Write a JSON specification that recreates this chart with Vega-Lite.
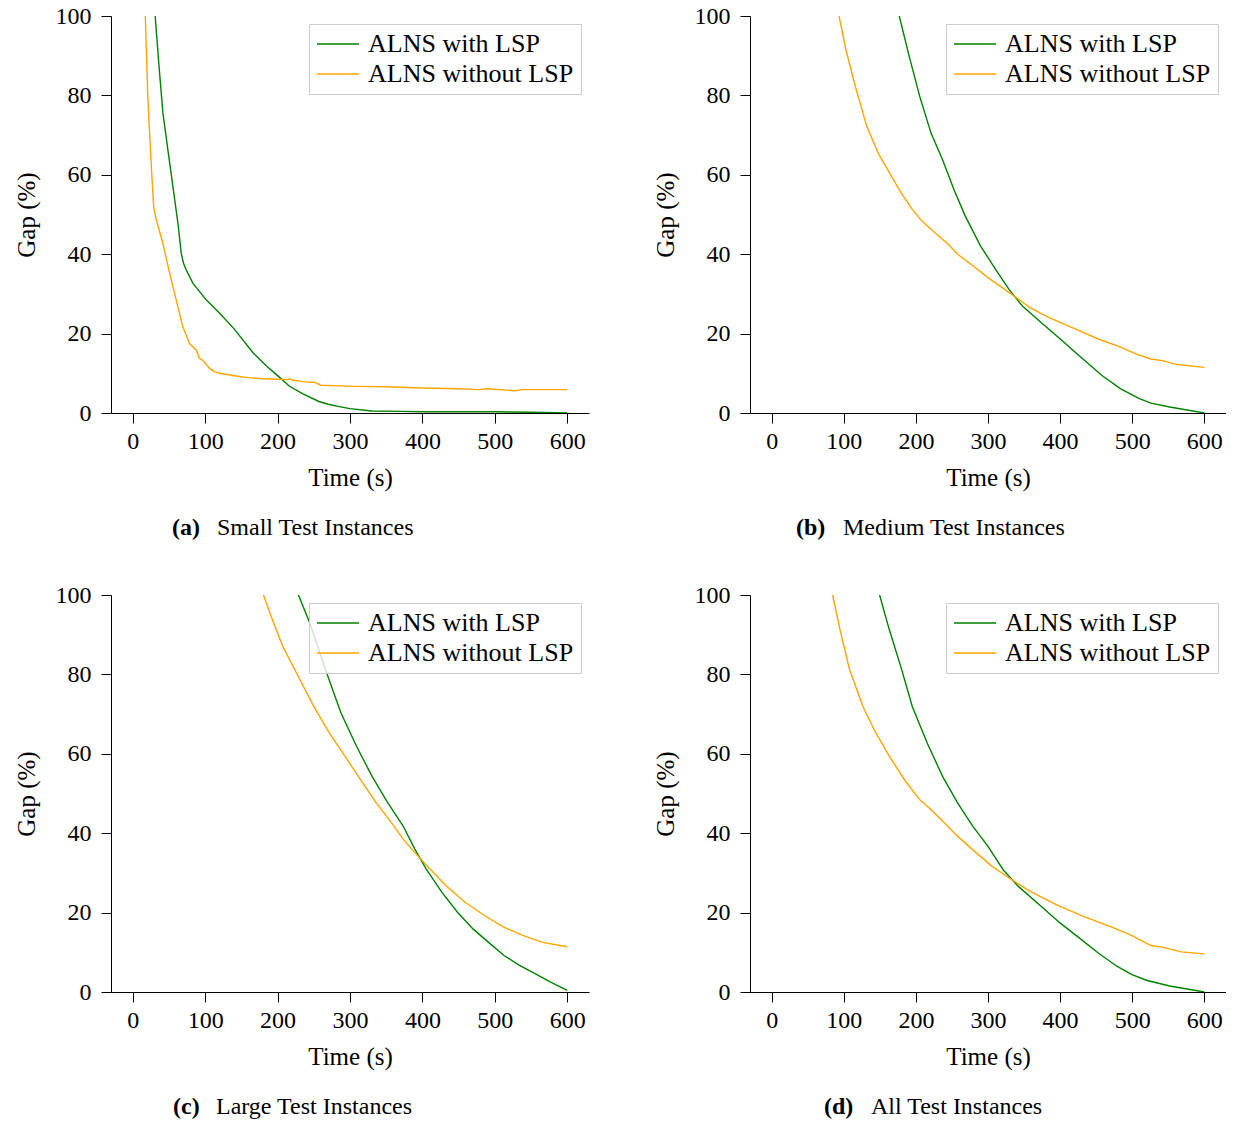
{
  "$schema": "https://vega.github.io/schema/vega-lite/v6.json",
  "background": "white",
  "padding": {"left": 14, "top": 4, "right": 0, "bottom": 0},
  "datasets": {
    "small": [
      {"t": 31, "gap": 100, "s": "ALNS with LSP"},
      {"t": 36, "gap": 88, "s": "ALNS with LSP"},
      {"t": 41.7, "gap": 75.5, "s": "ALNS with LSP"},
      {"t": 48.6, "gap": 66.2, "s": "ALNS with LSP"},
      {"t": 55.5, "gap": 57, "s": "ALNS with LSP"},
      {"t": 62.4, "gap": 47.8, "s": "ALNS with LSP"},
      {"t": 67, "gap": 40.2, "s": "ALNS with LSP"},
      {"t": 70, "gap": 37.8, "s": "ALNS with LSP"},
      {"t": 73.9, "gap": 36, "s": "ALNS with LSP"},
      {"t": 83, "gap": 32.7, "s": "ALNS with LSP"},
      {"t": 101.4, "gap": 28.5, "s": "ALNS with LSP"},
      {"t": 120, "gap": 25.1, "s": "ALNS with LSP"},
      {"t": 140, "gap": 21.2, "s": "ALNS with LSP"},
      {"t": 165.5, "gap": 15.3, "s": "ALNS with LSP"},
      {"t": 185, "gap": 11.8, "s": "ALNS with LSP"},
      {"t": 202, "gap": 9.1, "s": "ALNS with LSP"},
      {"t": 216, "gap": 6.8, "s": "ALNS with LSP"},
      {"t": 235, "gap": 4.8, "s": "ALNS with LSP"},
      {"t": 257, "gap": 2.9, "s": "ALNS with LSP"},
      {"t": 270, "gap": 2.2, "s": "ALNS with LSP"},
      {"t": 285, "gap": 1.6, "s": "ALNS with LSP"},
      {"t": 300, "gap": 1.1, "s": "ALNS with LSP"},
      {"t": 330, "gap": 0.5, "s": "ALNS with LSP"},
      {"t": 370, "gap": 0.4, "s": "ALNS with LSP"},
      {"t": 400, "gap": 0.3, "s": "ALNS with LSP"},
      {"t": 450, "gap": 0.3, "s": "ALNS with LSP"},
      {"t": 500, "gap": 0.3, "s": "ALNS with LSP"},
      {"t": 550, "gap": 0.2, "s": "ALNS with LSP"},
      {"t": 600, "gap": 0, "s": "ALNS with LSP"},
      {"t": 17.4, "gap": 100, "s": "ALNS without LSP"},
      {"t": 21, "gap": 78.8, "s": "ALNS without LSP"},
      {"t": 25.7, "gap": 62, "s": "ALNS without LSP"},
      {"t": 28.9, "gap": 52, "s": "ALNS without LSP"},
      {"t": 32.6, "gap": 48.6, "s": "ALNS without LSP"},
      {"t": 41.7, "gap": 42.7, "s": "ALNS without LSP"},
      {"t": 51, "gap": 35.2, "s": "ALNS without LSP"},
      {"t": 60, "gap": 28.5, "s": "ALNS without LSP"},
      {"t": 69.2, "gap": 21.7, "s": "ALNS without LSP"},
      {"t": 78.4, "gap": 17.5, "s": "ALNS without LSP"},
      {"t": 87.6, "gap": 15.9, "s": "ALNS without LSP"},
      {"t": 92, "gap": 13.8, "s": "ALNS without LSP"},
      {"t": 96.7, "gap": 13.3, "s": "ALNS without LSP"},
      {"t": 106, "gap": 11.3, "s": "ALNS without LSP"},
      {"t": 112, "gap": 10.5, "s": "ALNS without LSP"},
      {"t": 119.7, "gap": 10, "s": "ALNS without LSP"},
      {"t": 147, "gap": 9.2, "s": "ALNS without LSP"},
      {"t": 160, "gap": 8.9, "s": "ALNS without LSP"},
      {"t": 174.8, "gap": 8.7, "s": "ALNS without LSP"},
      {"t": 200, "gap": 8.5, "s": "ALNS without LSP"},
      {"t": 214, "gap": 8.4, "s": "ALNS without LSP"},
      {"t": 217, "gap": 8.7, "s": "ALNS without LSP"},
      {"t": 220, "gap": 8.3, "s": "ALNS without LSP"},
      {"t": 235, "gap": 7.9, "s": "ALNS without LSP"},
      {"t": 252, "gap": 7.7, "s": "ALNS without LSP"},
      {"t": 259.6, "gap": 7.0, "s": "ALNS without LSP"},
      {"t": 307.8, "gap": 6.7, "s": "ALNS without LSP"},
      {"t": 350, "gap": 6.6, "s": "ALNS without LSP"},
      {"t": 399.5, "gap": 6.3, "s": "ALNS without LSP"},
      {"t": 450, "gap": 6.1, "s": "ALNS without LSP"},
      {"t": 478, "gap": 5.9, "s": "ALNS without LSP"},
      {"t": 490, "gap": 6.1, "s": "ALNS without LSP"},
      {"t": 528, "gap": 5.6, "s": "ALNS without LSP"},
      {"t": 538, "gap": 5.9, "s": "ALNS without LSP"},
      {"t": 570, "gap": 5.9, "s": "ALNS without LSP"},
      {"t": 600, "gap": 5.9, "s": "ALNS without LSP"}
    ],
    "medium": [
      {"t": 177, "gap": 100, "s": "ALNS with LSP"},
      {"t": 189.7, "gap": 90.6, "s": "ALNS with LSP"},
      {"t": 205.4, "gap": 79.7, "s": "ALNS with LSP"},
      {"t": 221, "gap": 70.5, "s": "ALNS with LSP"},
      {"t": 237, "gap": 63.8, "s": "ALNS with LSP"},
      {"t": 252.7, "gap": 56.3, "s": "ALNS with LSP"},
      {"t": 268.5, "gap": 49.6, "s": "ALNS with LSP"},
      {"t": 289.5, "gap": 42.1, "s": "ALNS with LSP"},
      {"t": 310.5, "gap": 36.2, "s": "ALNS with LSP"},
      {"t": 328.9, "gap": 31.2, "s": "ALNS with LSP"},
      {"t": 347.3, "gap": 27, "s": "ALNS with LSP"},
      {"t": 373.6, "gap": 22.8, "s": "ALNS with LSP"},
      {"t": 399.8, "gap": 18.7, "s": "ALNS with LSP"},
      {"t": 426, "gap": 14.5, "s": "ALNS with LSP"},
      {"t": 457.6, "gap": 9.5, "s": "ALNS with LSP"},
      {"t": 483.9, "gap": 6.1, "s": "ALNS with LSP"},
      {"t": 510, "gap": 3.6, "s": "ALNS with LSP"},
      {"t": 526, "gap": 2.5, "s": "ALNS with LSP"},
      {"t": 552, "gap": 1.5, "s": "ALNS with LSP"},
      {"t": 600, "gap": 0, "s": "ALNS with LSP"},
      {"t": 93.5, "gap": 100, "s": "ALNS without LSP"},
      {"t": 103, "gap": 91.5, "s": "ALNS without LSP"},
      {"t": 116, "gap": 82.3, "s": "ALNS without LSP"},
      {"t": 131.9, "gap": 72.2, "s": "ALNS without LSP"},
      {"t": 147.6, "gap": 65.5, "s": "ALNS without LSP"},
      {"t": 163.4, "gap": 60.5, "s": "ALNS without LSP"},
      {"t": 179.2, "gap": 55.5, "s": "ALNS without LSP"},
      {"t": 195, "gap": 51.3, "s": "ALNS without LSP"},
      {"t": 208, "gap": 48.4, "s": "ALNS without LSP"},
      {"t": 226.4, "gap": 45.4, "s": "ALNS without LSP"},
      {"t": 244.8, "gap": 42.5, "s": "ALNS without LSP"},
      {"t": 258, "gap": 40, "s": "ALNS without LSP"},
      {"t": 279, "gap": 37.1, "s": "ALNS without LSP"},
      {"t": 300, "gap": 34.1, "s": "ALNS without LSP"},
      {"t": 328.9, "gap": 30.4, "s": "ALNS without LSP"},
      {"t": 357.8, "gap": 26.6, "s": "ALNS without LSP"},
      {"t": 384, "gap": 24.1, "s": "ALNS without LSP"},
      {"t": 420.9, "gap": 21.2, "s": "ALNS without LSP"},
      {"t": 452, "gap": 18.7, "s": "ALNS without LSP"},
      {"t": 483.9, "gap": 16.6, "s": "ALNS without LSP"},
      {"t": 505, "gap": 14.9, "s": "ALNS without LSP"},
      {"t": 526, "gap": 13.6, "s": "ALNS without LSP"},
      {"t": 541.7, "gap": 13.2, "s": "ALNS without LSP"},
      {"t": 562.7, "gap": 12.2, "s": "ALNS without LSP"},
      {"t": 600, "gap": 11.5, "s": "ALNS without LSP"}
    ],
    "large": [
      {"t": 228.8, "gap": 100, "s": "ALNS with LSP"},
      {"t": 244.8, "gap": 92.8, "s": "ALNS with LSP"},
      {"t": 266.3, "gap": 81.1, "s": "ALNS with LSP"},
      {"t": 287.7, "gap": 70.2, "s": "ALNS with LSP"},
      {"t": 309, "gap": 61.9, "s": "ALNS with LSP"},
      {"t": 330.5, "gap": 54.3, "s": "ALNS with LSP"},
      {"t": 352, "gap": 47.7, "s": "ALNS with LSP"},
      {"t": 373.4, "gap": 41.8, "s": "ALNS with LSP"},
      {"t": 389.5, "gap": 36, "s": "ALNS with LSP"},
      {"t": 405.5, "gap": 30.9, "s": "ALNS with LSP"},
      {"t": 427, "gap": 25.1, "s": "ALNS with LSP"},
      {"t": 448.4, "gap": 20.1, "s": "ALNS with LSP"},
      {"t": 469.8, "gap": 15.9, "s": "ALNS with LSP"},
      {"t": 491.3, "gap": 12.5, "s": "ALNS with LSP"},
      {"t": 512.7, "gap": 9.2, "s": "ALNS with LSP"},
      {"t": 534, "gap": 6.7, "s": "ALNS with LSP"},
      {"t": 555.5, "gap": 4.6, "s": "ALNS with LSP"},
      {"t": 577, "gap": 2.5, "s": "ALNS with LSP"},
      {"t": 600, "gap": 0.4, "s": "ALNS with LSP"},
      {"t": 180.5, "gap": 100, "s": "ALNS without LSP"},
      {"t": 191.3, "gap": 94.5, "s": "ALNS without LSP"},
      {"t": 207.3, "gap": 87, "s": "ALNS without LSP"},
      {"t": 228.8, "gap": 79.4, "s": "ALNS without LSP"},
      {"t": 250.2, "gap": 71.9, "s": "ALNS without LSP"},
      {"t": 271.6, "gap": 65.2, "s": "ALNS without LSP"},
      {"t": 293, "gap": 59.4, "s": "ALNS without LSP"},
      {"t": 314.5, "gap": 53.5, "s": "ALNS without LSP"},
      {"t": 336, "gap": 47.7, "s": "ALNS without LSP"},
      {"t": 357.3, "gap": 42.6, "s": "ALNS without LSP"},
      {"t": 373.4, "gap": 38.5, "s": "ALNS without LSP"},
      {"t": 389.5, "gap": 35.1, "s": "ALNS without LSP"},
      {"t": 410.9, "gap": 30.9, "s": "ALNS without LSP"},
      {"t": 432.3, "gap": 26.8, "s": "ALNS without LSP"},
      {"t": 459, "gap": 22.6, "s": "ALNS without LSP"},
      {"t": 486, "gap": 19.2, "s": "ALNS without LSP"},
      {"t": 512.7, "gap": 16.3, "s": "ALNS without LSP"},
      {"t": 539.5, "gap": 14.2, "s": "ALNS without LSP"},
      {"t": 566, "gap": 12.5, "s": "ALNS without LSP"},
      {"t": 600, "gap": 11.4, "s": "ALNS without LSP"}
    ],
    "all": [
      {"t": 149.7, "gap": 100, "s": "ALNS with LSP"},
      {"t": 163.4, "gap": 91.1, "s": "ALNS with LSP"},
      {"t": 179.2, "gap": 81.9, "s": "ALNS with LSP"},
      {"t": 195, "gap": 71.9, "s": "ALNS with LSP"},
      {"t": 216, "gap": 62.6, "s": "ALNS with LSP"},
      {"t": 237, "gap": 54.3, "s": "ALNS with LSP"},
      {"t": 258, "gap": 47.6, "s": "ALNS with LSP"},
      {"t": 279, "gap": 41.7, "s": "ALNS with LSP"},
      {"t": 300, "gap": 36.7, "s": "ALNS with LSP"},
      {"t": 321, "gap": 30.8, "s": "ALNS with LSP"},
      {"t": 342, "gap": 26.6, "s": "ALNS with LSP"},
      {"t": 373.6, "gap": 21.6, "s": "ALNS with LSP"},
      {"t": 399.8, "gap": 17.4, "s": "ALNS with LSP"},
      {"t": 426, "gap": 13.7, "s": "ALNS with LSP"},
      {"t": 452.4, "gap": 9.9, "s": "ALNS with LSP"},
      {"t": 478.6, "gap": 6.5, "s": "ALNS with LSP"},
      {"t": 499.6, "gap": 4.4, "s": "ALNS with LSP"},
      {"t": 520.7, "gap": 2.9, "s": "ALNS with LSP"},
      {"t": 552, "gap": 1.5, "s": "ALNS with LSP"},
      {"t": 600, "gap": 0, "s": "ALNS with LSP"},
      {"t": 84.6, "gap": 100, "s": "ALNS without LSP"},
      {"t": 95, "gap": 91.1, "s": "ALNS without LSP"},
      {"t": 108.2, "gap": 81.1, "s": "ALNS without LSP"},
      {"t": 126.6, "gap": 71.9, "s": "ALNS without LSP"},
      {"t": 142.4, "gap": 66, "s": "ALNS without LSP"},
      {"t": 163.4, "gap": 59.3, "s": "ALNS without LSP"},
      {"t": 184.4, "gap": 53.4, "s": "ALNS without LSP"},
      {"t": 205.4, "gap": 48.4, "s": "ALNS without LSP"},
      {"t": 221.2, "gap": 45.9, "s": "ALNS without LSP"},
      {"t": 242.2, "gap": 42.1, "s": "ALNS without LSP"},
      {"t": 258, "gap": 39.2, "s": "ALNS without LSP"},
      {"t": 279, "gap": 35.8, "s": "ALNS without LSP"},
      {"t": 305.3, "gap": 31.7, "s": "ALNS without LSP"},
      {"t": 326.3, "gap": 29.1, "s": "ALNS without LSP"},
      {"t": 357.8, "gap": 25.4, "s": "ALNS without LSP"},
      {"t": 394.6, "gap": 22, "s": "ALNS without LSP"},
      {"t": 431.4, "gap": 19.1, "s": "ALNS without LSP"},
      {"t": 473.4, "gap": 16.2, "s": "ALNS without LSP"},
      {"t": 499.6, "gap": 14.2, "s": "ALNS without LSP"},
      {"t": 526, "gap": 11.7, "s": "ALNS without LSP"},
      {"t": 541.7, "gap": 11.3, "s": "ALNS without LSP"},
      {"t": 568, "gap": 10.1, "s": "ALNS without LSP"},
      {"t": 600, "gap": 9.6, "s": "ALNS without LSP"}
    ]
  },
  "resolve": {"scale": {"color": "independent"}, "legend": {"color": "independent"}},
  "spacing": 43,
  "vconcat": [
    {
      "spacing": 64,
      "resolve": {"scale": {"color": "independent"}, "legend": {"color": "independent"}},
      "hconcat": [
        {
          "title": {"text": "(a)", "orient": "bottom", "anchor": "start", "frame": "bounds", "dx": 158, "dy": -24, "offset": 0, "fontWeight": "bold"},
          "resolve": {"scale": {"color": "independent"}, "legend": {"color": "independent"}},
          "vconcat": [
            {
              "width": 478, "height": 397,
              "data": {"name": "small"},
              "title": {"text": "Small Test Instances", "orient": "bottom", "anchor": "start", "frame": "bounds", "dx": 203, "offset": 26},
              "mark": {"type": "line", "strokeWidth": 1.4, "clip": true},
              "encoding": {
                "x": {"field": "t", "type": "quantitative", "scale": {"domain": [-30, 630], "nice": false, "zero": false}, "axis": {"values": [0, 100, 200, 300, 400, 500, 600], "title": "Time (s)", "labelPadding": 6}},
                "y": {"field": "gap", "type": "quantitative", "scale": {"domain": [0, 100], "nice": false}, "axis": {"values": [0, 20, 40, 60, 80, 100], "title": "Gap (%)", "labelPadding": 10}},
                "color": {"field": "s", "type": "nominal", "scale": {"domain": ["ALNS with LSP", "ALNS without LSP"], "range": ["#008000", "#FFA500"]}, "legend": {"title": null}}
              }
            }
          ]
        },
        {
          "title": {"text": "(b)", "orient": "bottom", "anchor": "start", "frame": "bounds", "dx": 143, "dy": -24, "offset": 0, "fontWeight": "bold"},
          "resolve": {"scale": {"color": "independent"}, "legend": {"color": "independent"}},
          "vconcat": [
            {
              "width": 476, "height": 397,
              "data": {"name": "medium"},
              "title": {"text": "Medium Test Instances", "orient": "bottom", "anchor": "start", "frame": "bounds", "dx": 190, "offset": 26},
              "mark": {"type": "line", "strokeWidth": 1.4, "clip": true},
              "encoding": {
                "x": {"field": "t", "type": "quantitative", "scale": {"domain": [-30, 630], "nice": false, "zero": false}, "axis": {"values": [0, 100, 200, 300, 400, 500, 600], "title": "Time (s)", "labelPadding": 6}},
                "y": {"field": "gap", "type": "quantitative", "scale": {"domain": [0, 100], "nice": false}, "axis": {"values": [0, 20, 40, 60, 80, 100], "title": "Gap (%)", "labelPadding": 10}},
                "color": {"field": "s", "type": "nominal", "scale": {"domain": ["ALNS with LSP", "ALNS without LSP"], "range": ["#008000", "#FFA500"]}, "legend": {"title": null}}
              }
            }
          ]
        }
      ]
    },
    {
      "spacing": 64,
      "resolve": {"scale": {"color": "independent"}, "legend": {"color": "independent"}},
      "hconcat": [
        {
          "title": {"text": "(c)", "orient": "bottom", "anchor": "start", "frame": "bounds", "dx": 159, "dy": -24, "offset": 0, "fontWeight": "bold"},
          "resolve": {"scale": {"color": "independent"}, "legend": {"color": "independent"}},
          "vconcat": [
            {
              "width": 478, "height": 397,
              "data": {"name": "large"},
              "title": {"text": "Large Test Instances", "orient": "bottom", "anchor": "start", "frame": "bounds", "dx": 202, "offset": 26},
              "mark": {"type": "line", "strokeWidth": 1.4, "clip": true},
              "encoding": {
                "x": {"field": "t", "type": "quantitative", "scale": {"domain": [-30, 630], "nice": false, "zero": false}, "axis": {"values": [0, 100, 200, 300, 400, 500, 600], "title": "Time (s)", "labelPadding": 6}},
                "y": {"field": "gap", "type": "quantitative", "scale": {"domain": [0, 100], "nice": false}, "axis": {"values": [0, 20, 40, 60, 80, 100], "title": "Gap (%)", "labelPadding": 10}},
                "color": {"field": "s", "type": "nominal", "scale": {"domain": ["ALNS with LSP", "ALNS without LSP"], "range": ["#008000", "#FFA500"]}, "legend": {"title": null}}
              }
            }
          ]
        },
        {
          "title": {"text": "(d)", "orient": "bottom", "anchor": "start", "frame": "bounds", "dx": 171, "dy": -24, "offset": 0, "fontWeight": "bold"},
          "resolve": {"scale": {"color": "independent"}, "legend": {"color": "independent"}},
          "vconcat": [
            {
              "width": 476, "height": 397,
              "data": {"name": "all"},
              "title": {"text": "All Test Instances", "orient": "bottom", "anchor": "start", "frame": "bounds", "dx": 218, "offset": 26},
              "mark": {"type": "line", "strokeWidth": 1.4, "clip": true},
              "encoding": {
                "x": {"field": "t", "type": "quantitative", "scale": {"domain": [-30, 630], "nice": false, "zero": false}, "axis": {"values": [0, 100, 200, 300, 400, 500, 600], "title": "Time (s)", "labelPadding": 6}},
                "y": {"field": "gap", "type": "quantitative", "scale": {"domain": [0, 100], "nice": false}, "axis": {"values": [0, 20, 40, 60, 80, 100], "title": "Gap (%)", "labelPadding": 10}},
                "color": {"field": "s", "type": "nominal", "scale": {"domain": ["ALNS with LSP", "ALNS without LSP"], "range": ["#008000", "#FFA500"]}, "legend": {"title": null}}
              }
            }
          ]
        }
      ]
    }
  ],
  "config": {
    "font": "Liberation Serif",
    "view": {"stroke": null},
    "axis": {
      "grid": false,
      "domainColor": "#000000",
      "domainWidth": 1,
      "tickColor": "#000000",
      "tickSize": 10,
      "tickWidth": 1,
      "labelFont": "Liberation Serif",
      "labelFontSize": 24,
      "labelColor": "#000000",
      "titleFont": "Liberation Serif",
      "titleFontSize": 25,
      "titleFontWeight": "normal",
      "titleColor": "#000000"
    },
    "axisX": {"titlePadding": 12},
    "axisY": {"titlePadding": 16},
    "legend": {
      "orient": "top-right",
      "offset": 8,
      "padding": 7,
      "fillColor": "rgba(255,255,255,0.8)",
      "strokeColor": "#cccccc",
      "labelFont": "Liberation Serif",
      "labelFontSize": 26,
      "labelColor": "#000000",
      "labelLimit": 500,
      "labelOffset": 26,
      "rowPadding": 4,
      "symbolType": "M-1,0L2.5,0",
      "symbolSize": 576,
      "symbolStrokeWidth": 1.5
    },
    "title": {
      "font": "Liberation Serif",
      "fontSize": 24,
      "fontWeight": "normal",
      "color": "#000000"
    }
  }
}
